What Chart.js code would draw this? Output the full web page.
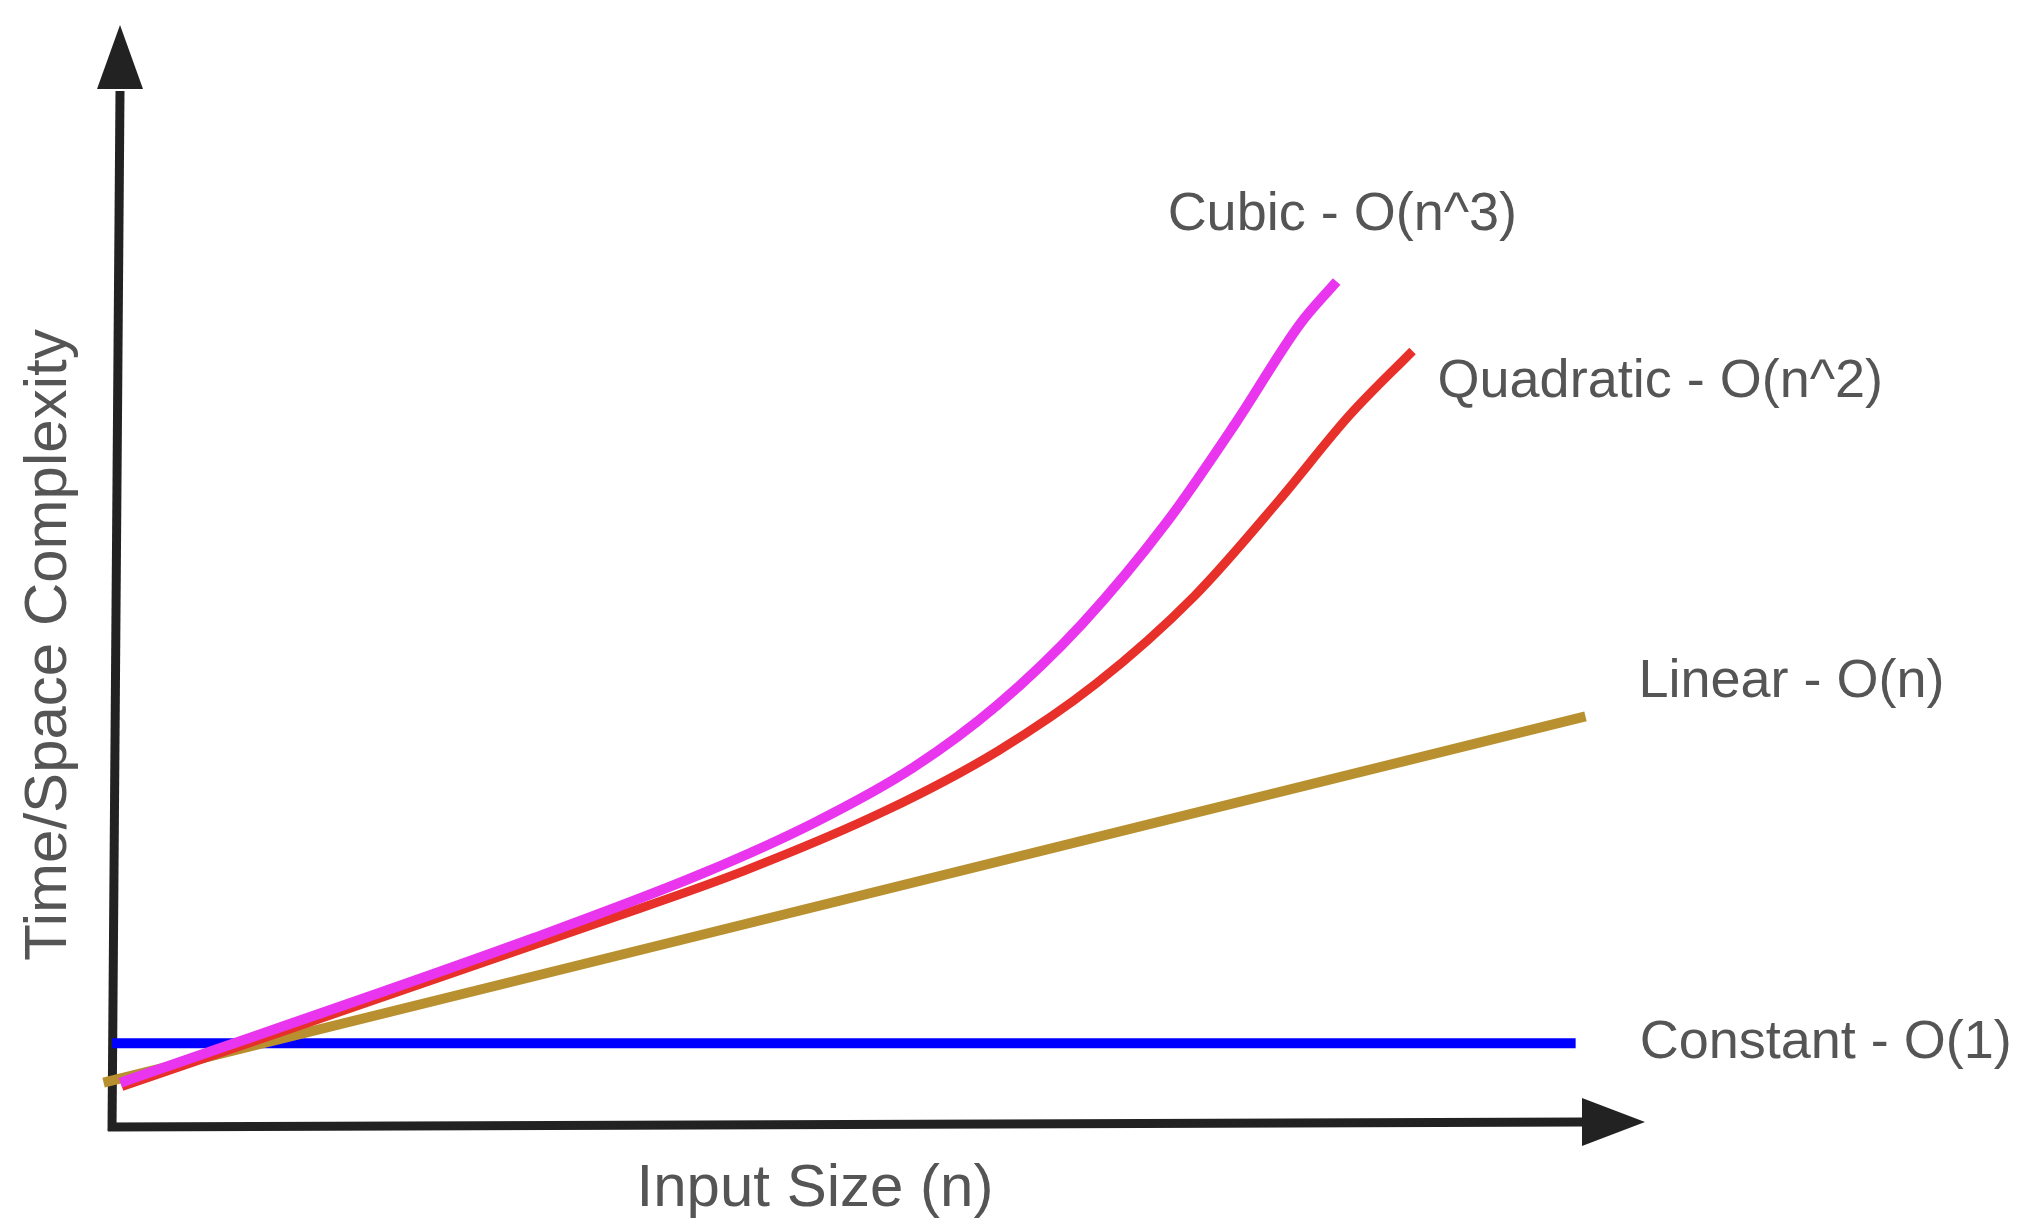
<!DOCTYPE html>
<html>
<head>
<meta charset="utf-8">
<title>Time/Space Complexity</title>
<script src="https://cdn.jsdelivr.net/npm/chart.js@4/dist/chart.umd.min.js"></script>
<style>
    html, body { margin: 0; padding: 0; background: #ffffff; }
    canvas { display: block; }
</style>
</head>
<body>
<canvas id="complexityChart" width="2024" height="1232"></canvas>
<script>
// values: input size n (0-100) against relative cost (0-100)
const constantN = [0, 104.1];
const constantCost = [8.7, 8.7];

const linearN = [-0.6, 104.8];
const linearCost = [4.6, 42.6];

const quadraticN = [0.7, 35, 45, 55, 63, 70, 77, 83, 88, 92.5];
const quadraticCost = [4.2, 21.4, 26.6, 32.8, 39.0, 46.0, 55.1, 65.0, 73.8, 80.5];

const cubicN = [0.6, 30, 42, 50, 57, 63, 69, 75, 80, 84.5, 87.1];
const cubicCost = [4.6, 19.6, 26.3, 31.6, 37.3, 43.8, 52.2, 62.7, 73.2, 83.3, 87.7];

const seriesNames = ["Cubic - O(n^3)", "Quadratic - O(n^2)", "Linear - O(n)", "Constant - O(1)"];
const xTitle = "Input Size (n)";
const yTitle = "Time/Space Complexity";

function toPoints(xs, ys) {
    return xs.map((x, i) => ({ x: x, y: ys[i] }));
}

// hand drawn looking axes with arrow heads, placed around the chart area
const sketchAxes = {
    id: "sketchAxes",
    beforeDatasetsDraw(chart, args, opts) {
        const { ctx, chartArea: a } = chart;
        ctx.save();
        ctx.strokeStyle = opts.color;
        ctx.fillStyle = opts.color;
        ctx.lineWidth = opts.width;

        // y axis
        const yBaseX = a.left + 8, yBaseY = a.top - 74, yTipY = a.top - 138;
        ctx.beginPath();
        ctx.moveTo(a.left, a.bottom + 4);
        ctx.lineTo(yBaseX, yBaseY + 2);
        ctx.stroke();
        ctx.beginPath();
        ctx.moveTo(yBaseX - 23, yBaseY);
        ctx.lineTo(yBaseX, yTipY);
        ctx.lineTo(yBaseX + 23, yBaseY);
        ctx.closePath();
        ctx.fill();

        // x axis
        const xBaseX = a.right + 64, xBaseY = a.bottom - 5, xTipX = a.right + 127;
        ctx.beginPath();
        ctx.moveTo(a.left - 4, a.bottom);
        ctx.lineTo(xBaseX + 2, xBaseY);
        ctx.stroke();
        ctx.beginPath();
        ctx.moveTo(xBaseX, xBaseY - 24);
        ctx.lineTo(xTipX, xBaseY);
        ctx.lineTo(xBaseX, xBaseY + 24);
        ctx.closePath();
        ctx.fill();
        ctx.restore();
    }
};

// series names written next to the end of each curve
const endLabels = {
    id: "endLabels",
    afterDatasetsDraw(chart, args, opts) {
        const ctx = chart.ctx;
        ctx.save();
        ctx.fillStyle = opts.color;
        ctx.font = opts.font;
        ctx.textAlign = "left";
        ctx.textBaseline = "alphabetic";
        chart.data.datasets.forEach((ds, i) => {
            const pts = chart.getDatasetMeta(i).data;
            const last = pts[pts.length - 1];
            const off = opts.offsets[i];
            ctx.fillText(ds.label, last.x + off[0], last.y + off[1]);
        });
        ctx.restore();
    }
};

const ctx = document.getElementById("complexityChart").getContext("2d");
new Chart(ctx, {
    type: "line",
    data: {
        datasets: [
            { label: seriesNames[0], data: toPoints(cubicN, cubicCost), borderColor: "#e935ee", borderWidth: 10 },
            { label: seriesNames[1], data: toPoints(quadraticN, quadraticCost), borderColor: "#e8302a", borderWidth: 9 },
            { label: seriesNames[2], data: toPoints(linearN, linearCost), borderColor: "#b8902f", borderWidth: 10 },
            { label: seriesNames[3], data: toPoints(constantN, constantCost), borderColor: "#0000ff", borderWidth: 10 }
        ]
    },
    options: {
        responsive: false,
        animation: false,
        clip: false,
        datasets: {
            line: { pointRadius: 0, cubicInterpolationMode: "monotone", clip: false, fill: false }
        },
        layout: {
            autoPadding: false,
            padding: { left: 13, top: 163, right: 506, bottom: 7 }
        },
        plugins: {
            legend: { display: false },
            tooltip: { enabled: false },
            sketchAxes: { color: "#222222", width: 9 },
            endLabels: {
                color: "#555555",
                font: "54px 'Liberation Sans', Arial, sans-serif",
                offsets: [[-169, -52], [25, 46], [53, -19], [64, 15]]
            }
        },
        scales: {
            x: {
                type: "linear",
                min: 0,
                max: 100,
                grid: { display: false, drawTicks: false },
                border: { display: false },
                ticks: { display: false },
                title: {
                    display: true,
                    text: xTitle,
                    color: "#555555",
                    font: { family: "'Liberation Sans', Arial, sans-serif", size: 60 },
                    padding: { top: 26, bottom: 0 }
                }
            },
            y: {
                type: "linear",
                min: 0,
                max: 100,
                grid: { display: false, drawTicks: false },
                border: { display: false },
                ticks: { display: false },
                title: {
                    display: true,
                    text: yTitle,
                    color: "#555555",
                    font: { family: "'Liberation Sans', Arial, sans-serif", size: 60 },
                    padding: { top: 0, bottom: 27 }
                }
            }
        }
    },
    plugins: [sketchAxes, endLabels]
});
</script>
</body>
</html>
